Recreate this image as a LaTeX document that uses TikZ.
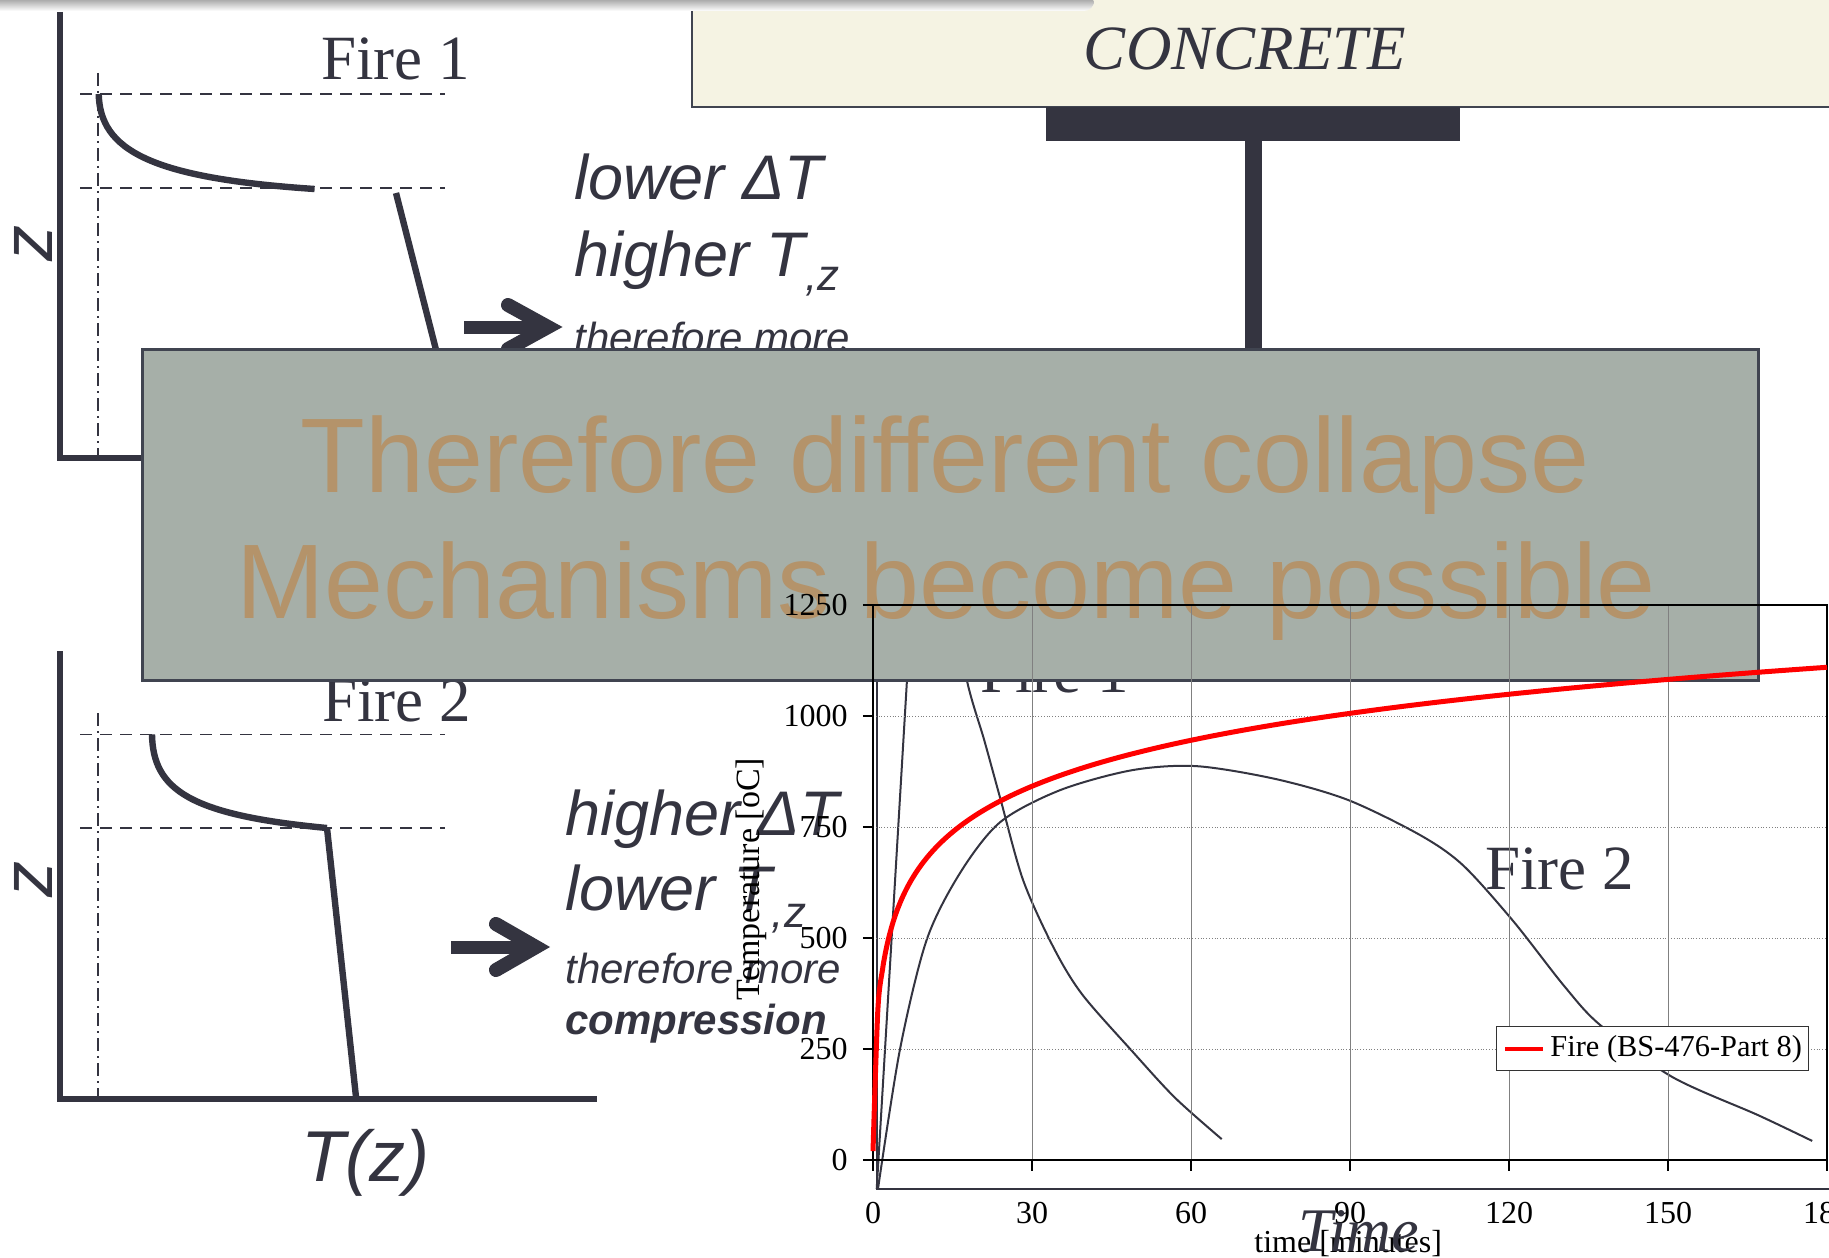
\documentclass[tikz,border=0pt]{standalone}
\usepackage{fontspec}
\setmainfont{Liberation Serif}
\setsansfont{Liberation Sans}
\usetikzlibrary{positioning}
\definecolor{slate}{RGB}{52,52,64}
\definecolor{concretefill}{RGB}{245,243,227}
\definecolor{panelfill}{RGB}{166,175,168}
\definecolor{panelborder}{RGB}{64,68,80}
\definecolor{slogancolor}{RGB}{180,147,106}

\begin{document}
\begin{tikzpicture}[x=0.5pt, y=-0.5pt,
    axisline/.style={slate, line width=3pt},
    profile/.style={slate, line width=3.2pt},
    level/.style={slate, line width=0.9pt, dash pattern=on 6pt off 4pt},
    centreline/.style={slate, line width=0.9pt, dash pattern=on 6.5pt off 2.5pt on 1pt off 2.5pt},
    shaft/.style={slate, line width=6.5pt},
    chevron/.style={slate, line width=7pt, line cap=round, line join=miter},
    note/.style={slate, anchor=base west, inner sep=0pt, font=\sffamily\itshape\fontsize{31.5pt}{34pt}\selectfont},
    smallnote/.style={note, font=\sffamily\itshape\fontsize{21pt}{23pt}\selectfont},
    firelabel/.style={slate, anchor=base west, inner sep=0pt, font=\fontsize{31.5pt}{34pt}\selectfont},
    zlabel/.style={slate, rotate=90, inner sep=0pt, font=\sffamily\itshape\fontsize{36pt}{38pt}\selectfont},
    slogan/.style={slogancolor, anchor=base, inner sep=0pt, font=\sffamily\fontsize{53pt}{60pt}\selectfont},
    ticklabel/.style={black, inner sep=0pt, font=\fontsize{16pt}{18pt}\selectfont},
    fireline/.style={slate, line width=1pt},
    grid/.style={gray, line width=0.4pt}
]
\useasboundingbox (0,0) rectangle (1829,1257);
\clip (0,0) rectangle (1829,1257);

% Concrete slab and column
\filldraw[draw=panelborder, line width=1pt, fill=concretefill] (692,-20) rectangle (1850,107);
\node (concrete) [anchor=base, inner sep=0pt, font=\itshape\fontsize{31.5pt}{34pt}\selectfont, slate] at (1245,70) {CONCRETE};
\fill[slate] (1046,107) rectangle (1460,141);
\fill[slate] (1245,141) rectangle (1262,360);

% Shadow strip
\shade[top color=black!50, bottom color=white, rounded corners=5pt] (-10,-6) rectangle (1094,11);

% Profile Fire 1
\draw[axisline] (60,12) -- (60,458) -- (300,458);
\draw[centreline] (97.6,73) -- (97.6,458);
\draw[level] (80,94) -- (445,94);
\draw[level] (80,188) -- (445,188);
\draw[profile] (98.7,94) .. controls (100,150) and (150,178) .. (314.6,189);
\draw[profile] (396,193) -- (445,385);
\node (fireone) [firelabel] at (321,80) {Fire 1};
\node (zone) [zlabel] at (33,243) {z};
\draw[shaft] (464,327) -- (540,327);
\draw[chevron] (508,305) -- (548,327) -- (508,349);
\node (lowdt) [note] at (574,200) {lower ΔT};
\node (hightz) [note] at (574,277) {higher T\raisebox{-6.5pt}{\fontsize{22pt}{24pt}\selectfont,z}};
\node (moreone) [smallnote] at (574,352) {therefore more};

% Profile Fire 2
\draw[axisline] (60,651) -- (60,1099) -- (597,1099);
\draw[centreline] (97.6,713) -- (97.6,1099);
\draw[level] (80,734.5) -- (445,734.5);
\draw[level] (80,828) -- (445,828);
\draw[profile] (152,734.5) .. controls (153,790) and (190,815) .. (327,828);
\draw[profile] (327,828) -- (356,1097);
\node (firetwo) [firelabel] at (322,721) {Fire 2};
\node (ztwo) [zlabel] at (33,879) {z};
\node (tz) [note, font=\sffamily\itshape\fontsize{36pt}{38pt}\selectfont] at (301,1181) {T(z)};
\draw[shaft] (451,947) -- (528,947);
\draw[chevron] (496,924) -- (536,947) -- (496,970);
\node (highdt) [note] at (565,835) {higher ΔT};
\node (lowtz) [note] at (565,910) {lower T\raisebox{-8.5pt}{\fontsize{22pt}{24pt}\selectfont,z}};
\node (moretwo) [smallnote] at (565,983) {therefore more};
\node (compr) [smallnote, font=\sffamily\bfseries\itshape\fontsize{21pt}{23pt}\selectfont] at (565,1034) {compression};

% Time-temperature chart, curves behind the panel
\begin{scope}[shift={(436.5pt,-580pt)}, x={(2.65pt,0pt)}, y={(0pt,0.222pt)}]
  \draw[slate, line width=1pt] (0.7,1300) -- (0.7,-65.3) -- (185,-65.3);
  \draw[fireline] (0.7,-65) -- (7.5,1300);
  \draw[fireline] plot[smooth] coordinates {(14.5,1300) (17.7,1081) (21,945) (24,815) (28.3,631) (34,480) (39.4,374) (48.9,245) (57,140) (65.8,47)};
  \draw[fireline] plot[smooth] coordinates {(0.94,-65) (5.1,250) (10.1,495) (16.4,646) (24,761) (35.3,833) (48.9,878) (61.1,887) (76,858) (89.6,811) (103.2,732) (111.3,664) (120.8,538) (130.4,392) (137.2,304) (150.8,187) (167,101) (177.2,43)};
\end{scope}
\node (chartone) [firelabel] at (980,692) {Fire 1};
\node (charttwo) [firelabel] at (1485,889) {Fire 2};

% Panel
\node (panel) [draw=panelborder, line width=1.3pt, fill=panelfill, minimum width=808pt, minimum height=165.5pt, anchor=north west, inner sep=0pt] at (141,348) {};
\node (slogana) [slogan] at (945,492) {Therefore different collapse};
\node (sloganb) [slogan] at (946,618) {Mechanisms become possible};

% Chart frame, grid and standard fire
\begin{scope}[shift={(436.5pt,-580pt)}, x={(2.65pt,0pt)}, y={(0pt,0.222pt)}]
  \foreach \T in {250,500,750,1000}
    \draw[grid, densely dotted] (0,\T) -- (180,\T);
  \foreach \t in {30,60,...,150}
    \draw[grid] (\t,-24) -- (\t,1250);
  \draw[black, line width=0.8pt] (0,0) rectangle (180,1250);
  \foreach \T in {0,250,...,1250} {
    \draw[black, line width=0.6pt] (-1.9,\T) -- (0,\T);
    \node[ticklabel, anchor=east] at (-4.7,\T) {\T};
  }
  \foreach \t in {0,30,...,180} {
    \draw[black, line width=0.6pt] (\t,0) -- (\t,-24);
    \node[ticklabel, anchor=north] at (\t,-94.6) {\t};
  }
  \draw[red, line width=2.5pt] plot[domain=0:180, samples=200, smooth] (\x,{345*log10(8*\x+1)+20});
\end{scope}

% Legend and axis titles
\node (legend) [draw=black!80, line width=0.6pt, fill=white, minimum width=156pt, minimum height=22pt, anchor=north west, inner sep=0pt] at (1496,1026) {};
\draw[red, line width=2pt] (1505,1049) -- (1543,1049);
\node (legendtext) [ticklabel, anchor=west, font=\fontsize{15.2pt}{17pt}\selectfont] at (1550,1049) {Fire (BS-476-Part 8)};
\node (ytitle) [ticklabel, rotate=90, font=\fontsize{17pt}{19pt}\selectfont] at (751,879) {Temperature [oC]};
\node (xtitle) [ticklabel, anchor=base west] at (1254,1252) {time [minutes]};
\node (timelabel) [slate, anchor=base west, inner sep=0pt, font=\itshape\fontsize{31pt}{33pt}\selectfont] at (1298,1251) {Time};

\end{tikzpicture}
\end{document}
